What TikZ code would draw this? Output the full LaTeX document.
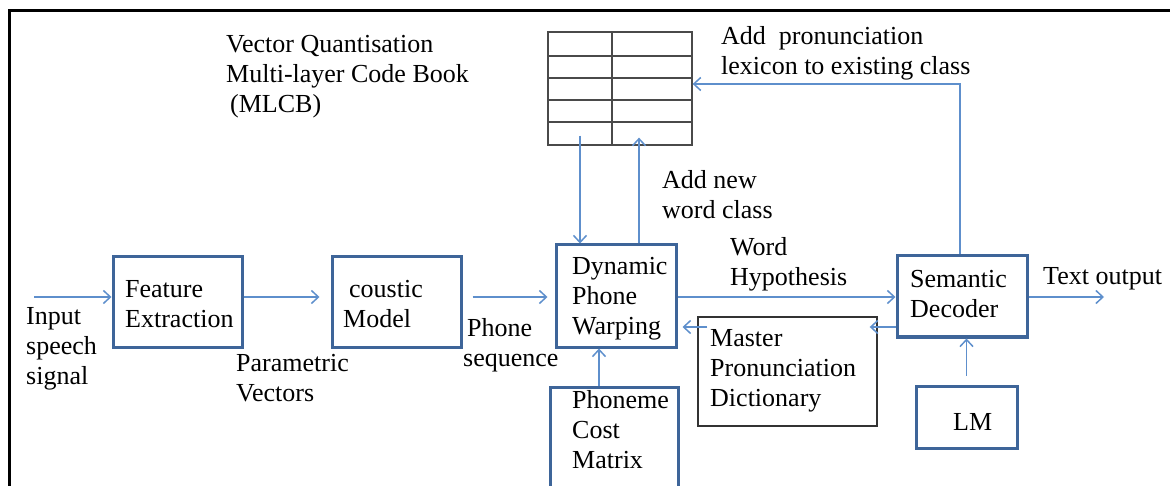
\documentclass[tikz,border=0pt]{standalone}
\usepackage{fontspec}
\setmainfont{Liberation Serif}
\newfontfamily\timesfont{Liberation Serif}
\usetikzlibrary{arrows.meta,calc}
\definecolor{boxblue}{HTML}{3E6599}
\definecolor{arrblue}{HTML}{5E8FCC}
\definecolor{gridgray}{HTML}{4A4A4A}
\tikzset{
  blockbox/.style={draw=boxblue, line width=3pt, rectangle, inner sep=0pt},
  thinbox/.style={draw=black!80, line width=1.4pt, rectangle, inner sep=0pt},
  gridbox/.style={draw=gridgray, line width=1.3pt, rectangle, inner sep=0pt},
  arr/.style={draw=arrblue, line width=1.5pt, -{Straight Barb[length=7pt,width=13pt,line width=1.5pt]}},
  txt/.style={font=\timesfont\fontsize{26}{30}\selectfont, align=left, inner sep=0pt, anchor=west}
}
\begin{document}
\begin{tikzpicture}[x=1pt,y=-1pt]
\useasboundingbox (0,0) rectangle (1170,486);
% frame (top and left edges)
\draw[line width=3pt, black] (9,486) -- (9,11) -- (1172,11);

% boxes
\node[blockbox, minimum width=129pt, minimum height=90pt] (fe) at (177.5,302) {};
\node[blockbox, minimum width=129pt, minimum height=90pt] (am) at (396.5,302) {};
\node[blockbox, minimum width=120pt, minimum height=102pt] (dpw) at (616,296) {};
\node[blockbox, minimum width=128pt, minimum height=113pt] (pcm) at (614,443.5) {};
\node[thinbox, minimum width=179pt, minimum height=109pt] (mpd) at (787.5,371.5) {};
\node[blockbox, minimum width=130pt, minimum height=81pt] (sd) at (962,296.5) {};
\node[blockbox, minimum width=101pt, minimum height=62pt] (lm) at (966.5,417) {};

% code book grid
\node[gridbox, minimum width=144pt, minimum height=113pt] (grid) at (620,88.5) {};
\draw[gridgray, line width=1.3pt] (grid.north -| 612,0) -- (grid.south -| 612,0);
\foreach \yy in {56,78,100,122} {
  \draw[gridgray, line width=1.3pt] (grid.west |- 0,\yy) -- (grid.east |- 0,\yy);
}

% texts
\node[txt] (tvq) at (226,77) {Vector Quantisation\\Multi-layer Code Book\\\hspace*{4pt}(MLCB)};
\node[txt] (tadd) at (721,53) {Add~ pronunciation\\lexicon to existing class};
\node[txt] (tnew) at (662,195) {Add new\\word class};
\node[txt] (tin) at (26,349) {Input\\speech\\signal};
\node[txt] (tfe) at (125,304.5) {Feature\\Extraction};
\node[txt] (tam) at (343,304.5) {\hspace*{6pt}coustic\\Model};
\node[txt] (tps) at (463,345.5) {\hspace*{4pt}Phone\\sequence};
\node[txt] (tpv) at (236,378) {Parametric\\Vectors};
\node[txt] (tdpw) at (572,299) {Dynamic\\Phone\\Warping};
\node[txt] (tpcm) at (572,430) {Phoneme\\Cost\\Matrix};
\node[txt] (tmpd) at (710,371) {Master\\Pronunciation\\Dictionary};
\node[txt] (twh) at (730,264.5) {Word\\Hypothesis};
\node[txt] (tsd) at (910,294) {Semantic\\Decoder};
\node[txt] (tto) at (1043,279) {Text output};
\node[txt] (tlm) at (953,422) {LM};

% connectors
\coordinate (in) at (34,297);
\coordinate (out) at (1104,297);
\draw[arr] (in) -- (in -| fe.west);
\draw[arr, shorten >=11pt] (in -| fe.east) -- (in -| am.west);
\draw[arr, shorten <=10pt, shorten >=7pt] (in -| am.east) -- (in -| dpw.west);
\draw[arr] (in -| dpw.east) -- (in -| sd.west);
\draw[arr] (in -| sd.east) -- (out);

\draw[arr] ([xshift=-40pt,yshift=10pt]grid.south) -- ([xshift=-36pt]dpw.north);
\draw[arr] ([xshift=23pt]dpw.north) -- ([xshift=19pt,yshift=8pt]grid.south);
\draw[arr] ([xshift=-2pt]sd.north) |- ([yshift=4.5pt]grid.east);
\draw[arr] ([xshift=-15pt]pcm.north) -- ([xshift=-17pt]dpw.south);
\draw[arr, shorten <=9pt] (lm.north) -- (lm.north |- sd.south);
\draw[arr, shorten >=-8pt] ([yshift=-30.5pt]sd.west) -- ([yshift=-30.5pt]sd.west -| mpd.east);
\draw[arr] ([xshift=10pt,yshift=44.5pt]mpd.west) -- ([xshift=5pt,yshift=-31pt]dpw.east);
\end{tikzpicture}
\end{document}
